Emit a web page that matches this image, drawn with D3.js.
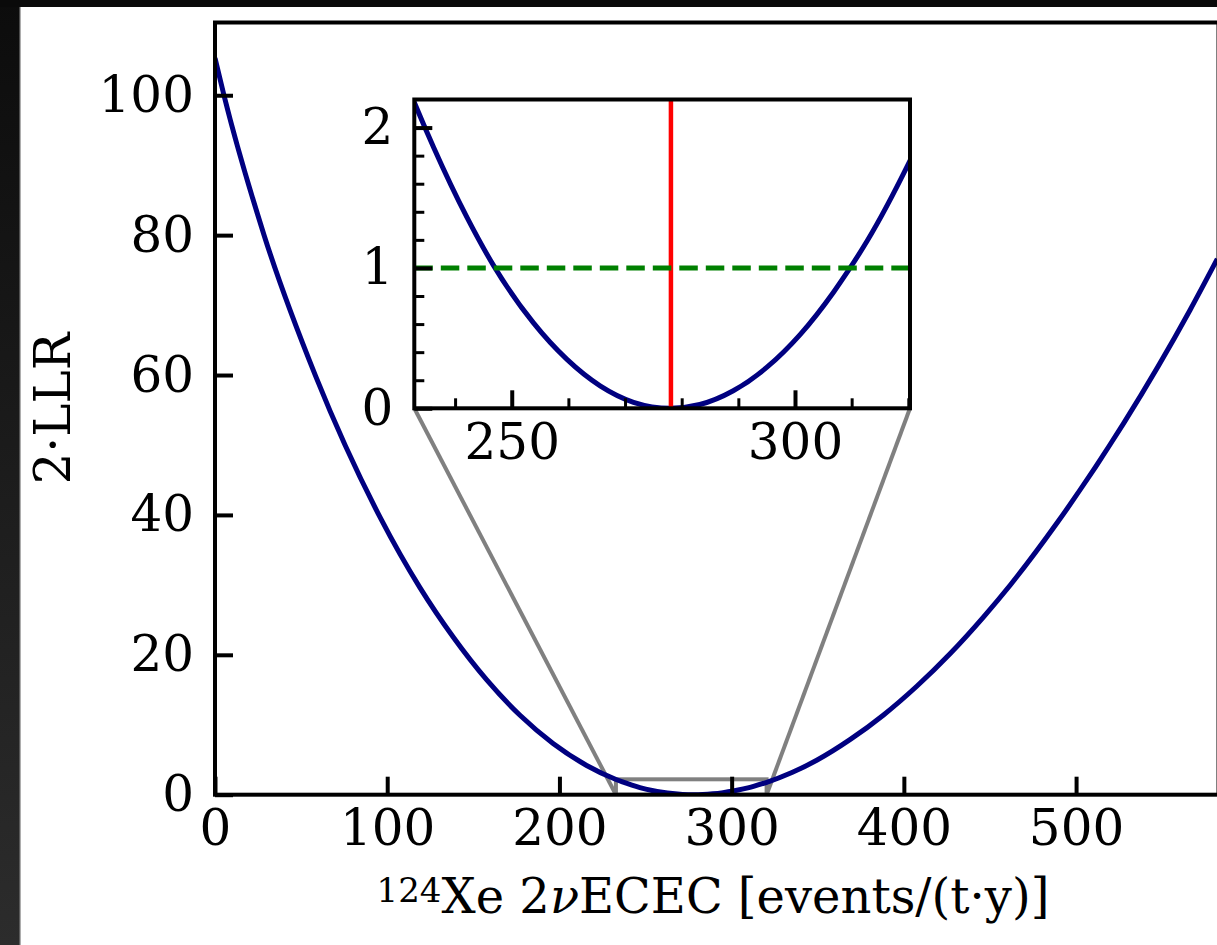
<!DOCTYPE html>
<html>
<head>
<meta charset="utf-8">
<script src="https://cdn.jsdelivr.net/npm/d3@7"></script>
<style>
body { margin: 0; background: #fff; overflow: hidden; }
svg { display: block; }
text { font-family: "DejaVu Serif", serif; fill: #000; }
</style>
</head>
<body>
<svg width="1217" height="945"></svg>
<script>
// values (main curve + inset)
const llrX = [0, 5.2, 28.5, 58.5, 96.2, 119, 138.4, 157.8, 177.1, 196.5, 215.8,
    232.9, 236.2, 242.1, 246.75, 253.8, 259.7, 265.6, 271.5, 278, 283.2, 289.1, 295, 300.9, 306.8, 309.4, 312.7, 320,
    335, 349.4, 368.9, 388.2, 407.5, 426.8, 446.2, 461.7, 488.8, 527.5, 566.2, 582]
const llrY = [105.3, 100, 80, 59.8, 39.5, 29.6, 22.5, 16.4, 11.35, 7.28, 4.18,
    2.17, 1.86, 1.36, 1.02, 0.61, 0.35, 0.16, 0.043, 0, 0.027, 0.125, 0.291, 0.525, 0.827, 0.98, 1.19, 1.74,
    3.17, 4.92, 7.9, 11.4, 15.5, 20.15, 25.4, 29.95, 38.8, 53.05, 69.3, 76.6]
const bestFit = 278.1
const oneSigmaLevel = 1
const mainXTicks = [0, 100, 200, 300, 400, 500]
const mainYTicks = [0, 20, 40, 60, 80, 100]
const insetXTicks = [250, 300]
const insetXMinor = [240, 260, 270, 280, 290, 310, 320]
const insetYTicks = [0, 1, 2]
const insetYMinor = [0.2, 0.4, 0.6, 0.8, 1.2, 1.4, 1.6, 1.8]

const data = llrX.map((x, i) => ({ x: x, y: llrY[i] }))

const svg = d3.select('svg')
const width = +svg.attr('width')
const height = +svg.attr('height')

// screenshot frame around the figure
const defs = svg.append('defs')
const grad = defs.append('linearGradient')
    .attr('id', 'side')
    .attr('x1', 0).attr('y1', 0).attr('x2', 0).attr('y2', 1)
grad.append('stop').attr('offset', '0%').attr('stop-color', '#0c0c0c')
grad.append('stop').attr('offset', '100%').attr('stop-color', '#2c2c2c')
svg.append('rect').attr('width', width).attr('height', height).attr('fill', '#fff')
svg.append('rect').attr('width', 20).attr('height', height).attr('fill', 'url(#side)')
svg.append('rect').attr('x', 19.5).attr('y', 7).attr('width', 1.2).attr('height', height).attr('fill', '#8a8a8a')
svg.append('rect').attr('width', width).attr('height', 7).attr('fill', '#0a0a0a')

// main axes
const main = { left: 215, right: 1218.5, top: 22.5, bottom: 794.7 }
const x = d3.scaleLinear().domain([0, 582.7]).range([main.left, main.right])
const y = d3.scaleLinear().domain([0, 110.4]).range([main.bottom, main.top])

defs.append('clipPath').attr('id', 'mainClip')
    .append('rect')
    .attr('x', main.left).attr('y', main.top)
    .attr('width', main.right - main.left).attr('height', main.bottom - main.top)

// inset axes
const ins = { left: 414.3, right: 910, top: 99.5, bottom: 408.3 }
const xi = d3.scaleLinear().domain([232.8, 320.3]).range([ins.left, ins.right])
const yi = d3.scaleLinear().domain([0, 2.2]).range([ins.bottom, ins.top])

defs.append('clipPath').attr('id', 'insClip')
    .append('rect')
    .attr('x', ins.left).attr('y', ins.top)
    .attr('width', ins.right - ins.left).attr('height', ins.bottom - ins.top)

const grey = '#808080'
// zoom box and connectors
const zoomG = svg.append('g').attr('clip-path', 'url(#mainClip)')
zoomG.append('rect')
    .attr('x', x(xi.domain()[0]))
    .attr('y', y(yi.domain()[1]))
    .attr('width', x(xi.domain()[1]) - x(xi.domain()[0]))
    .attr('height', y(0) - y(yi.domain()[1]))
    .attr('fill', 'none')
    .attr('stroke', grey)
    .attr('stroke-width', 4)
svg.append('line')
    .attr('x1', ins.left).attr('y1', ins.bottom)
    .attr('x2', x(xi.domain()[0])).attr('y2', y(0))
    .attr('stroke', grey).attr('stroke-width', 4)
svg.append('line')
    .attr('x1', ins.right).attr('y1', ins.bottom)
    .attr('x2', x(xi.domain()[1])).attr('y2', y(0))
    .attr('stroke', grey).attr('stroke-width', 4)

const mainLine = d3.line()
    .x(d => x(d.x))
    .y(d => y(d.y))
    .curve(d3.curveMonotoneX)

svg.append('path')
    .datum(data)
    .attr('clip-path', 'url(#mainClip)')
    .attr('d', mainLine)
    .attr('fill', 'none')
    .attr('stroke', '#000080')
    .attr('stroke-width', 5)

// main ticks (inward)
const xAxis = svg.append('g')
    .attr('transform', `translate(0,${main.bottom})`)
    .call(d3.axisBottom(x).tickValues(mainXTicks).tickSize(-18).tickSizeOuter(0).tickPadding(15).tickFormat(d3.format('d')))
const yAxis = svg.append('g')
    .attr('transform', `translate(${main.left},0)`)
    .call(d3.axisLeft(y).tickValues(mainYTicks).tickSize(-18).tickSizeOuter(0).tickPadding(21).tickFormat(d3.format('d')))

;[xAxis, yAxis].forEach(a => {
    a.select('.domain').remove()
    a.selectAll('line').attr('stroke', '#000').attr('stroke-width', 4)
    a.selectAll('text').attr('font-size', 50).attr('font-family', '"DejaVu Serif", serif').attr('fill', '#000')
})

svg.append('rect')
    .attr('x', main.left).attr('y', main.top)
    .attr('width', main.right - main.left).attr('height', main.bottom - main.top)
    .attr('fill', 'none')
    .attr('stroke', '#000')
    .attr('stroke-width', 4)

// axis labels
svg.append('text')
    .attr('x', 70).attr('y', (main.top + main.bottom) / 2)
    .attr('transform', `rotate(-90, 70, ${(main.top + main.bottom) / 2})`)
    .attr('text-anchor', 'middle')
    .attr('font-size', 50)
    .text('2·LLR')

const xLabel = svg.append('text')
    .attr('x', 713).attr('y', 913)
    .attr('text-anchor', 'middle')
    .attr('font-size', 48)
xLabel.append('tspan').attr('font-size', 34).attr('dy', -11).text('124')
xLabel.append('tspan').attr('dy', 11).text('Xe 2')
xLabel.append('tspan').attr('font-style', 'italic').text('ν')
xLabel.append('tspan').text('ECEC [events/(t·y)]')

// inset
svg.append('rect')
    .attr('x', ins.left).attr('y', ins.top)
    .attr('width', ins.right - ins.left).attr('height', ins.bottom - ins.top)
    .attr('fill', '#fff')

const insG = svg.append('g').attr('clip-path', 'url(#insClip)')
const insLine = d3.line()
    .x(d => xi(d.x))
    .y(d => yi(d.y))
    .curve(d3.curveMonotoneX)
insG.append('path')
    .datum(data)
    .attr('d', insLine)
    .attr('fill', 'none')
    .attr('stroke', '#000080')
    .attr('stroke-width', 5)
insG.append('line')
    .attr('x1', xi(bestFit)).attr('x2', xi(bestFit))
    .attr('y1', ins.top).attr('y2', ins.bottom)
    .attr('stroke', '#ff0000')
    .attr('stroke-width', 4.5)
insG.append('line')
    .attr('x1', ins.left).attr('x2', ins.right)
    .attr('y1', yi(oneSigmaLevel)).attr('y2', yi(oneSigmaLevel))
    .attr('stroke', '#008000')
    .attr('stroke-width', 5)
    .attr('stroke-dasharray', '18.5,8')

const xiAxis = svg.append('g')
    .attr('transform', `translate(0,${ins.bottom})`)
    .call(d3.axisBottom(xi).tickValues(insetXTicks).tickSize(-18).tickSizeOuter(0).tickPadding(15).tickFormat(d3.format('d')))
const xiMinor = svg.append('g')
    .attr('transform', `translate(0,${ins.bottom})`)
    .call(d3.axisBottom(xi).tickValues(insetXMinor).tickSize(-10).tickSizeOuter(0).tickFormat(''))
const yiAxis = svg.append('g')
    .attr('transform', `translate(${ins.left},0)`)
    .call(d3.axisLeft(yi).tickValues(insetYTicks).tickSize(-18).tickSizeOuter(0).tickPadding(21).tickFormat(d3.format('d')))
const yiMinor = svg.append('g')
    .attr('transform', `translate(${ins.left},0)`)
    .call(d3.axisLeft(yi).tickValues(insetYMinor).tickSize(-10).tickSizeOuter(0).tickFormat(''))

;[xiAxis, yiAxis].forEach(a => {
    a.select('.domain').remove()
    a.selectAll('line').attr('stroke', '#000').attr('stroke-width', 4)
    a.selectAll('text').attr('font-size', 50).attr('font-family', '"DejaVu Serif", serif').attr('fill', '#000')
})
;[xiMinor, yiMinor].forEach(a => {
    a.select('.domain').remove()
    a.selectAll('line').attr('stroke', '#000').attr('stroke-width', 3)
})

svg.append('rect')
    .attr('x', ins.left).attr('y', ins.top)
    .attr('width', ins.right - ins.left).attr('height', ins.bottom - ins.top)
    .attr('fill', 'none')
    .attr('stroke', '#000')
    .attr('stroke-width', 4)
</script>
</body>
</html>
